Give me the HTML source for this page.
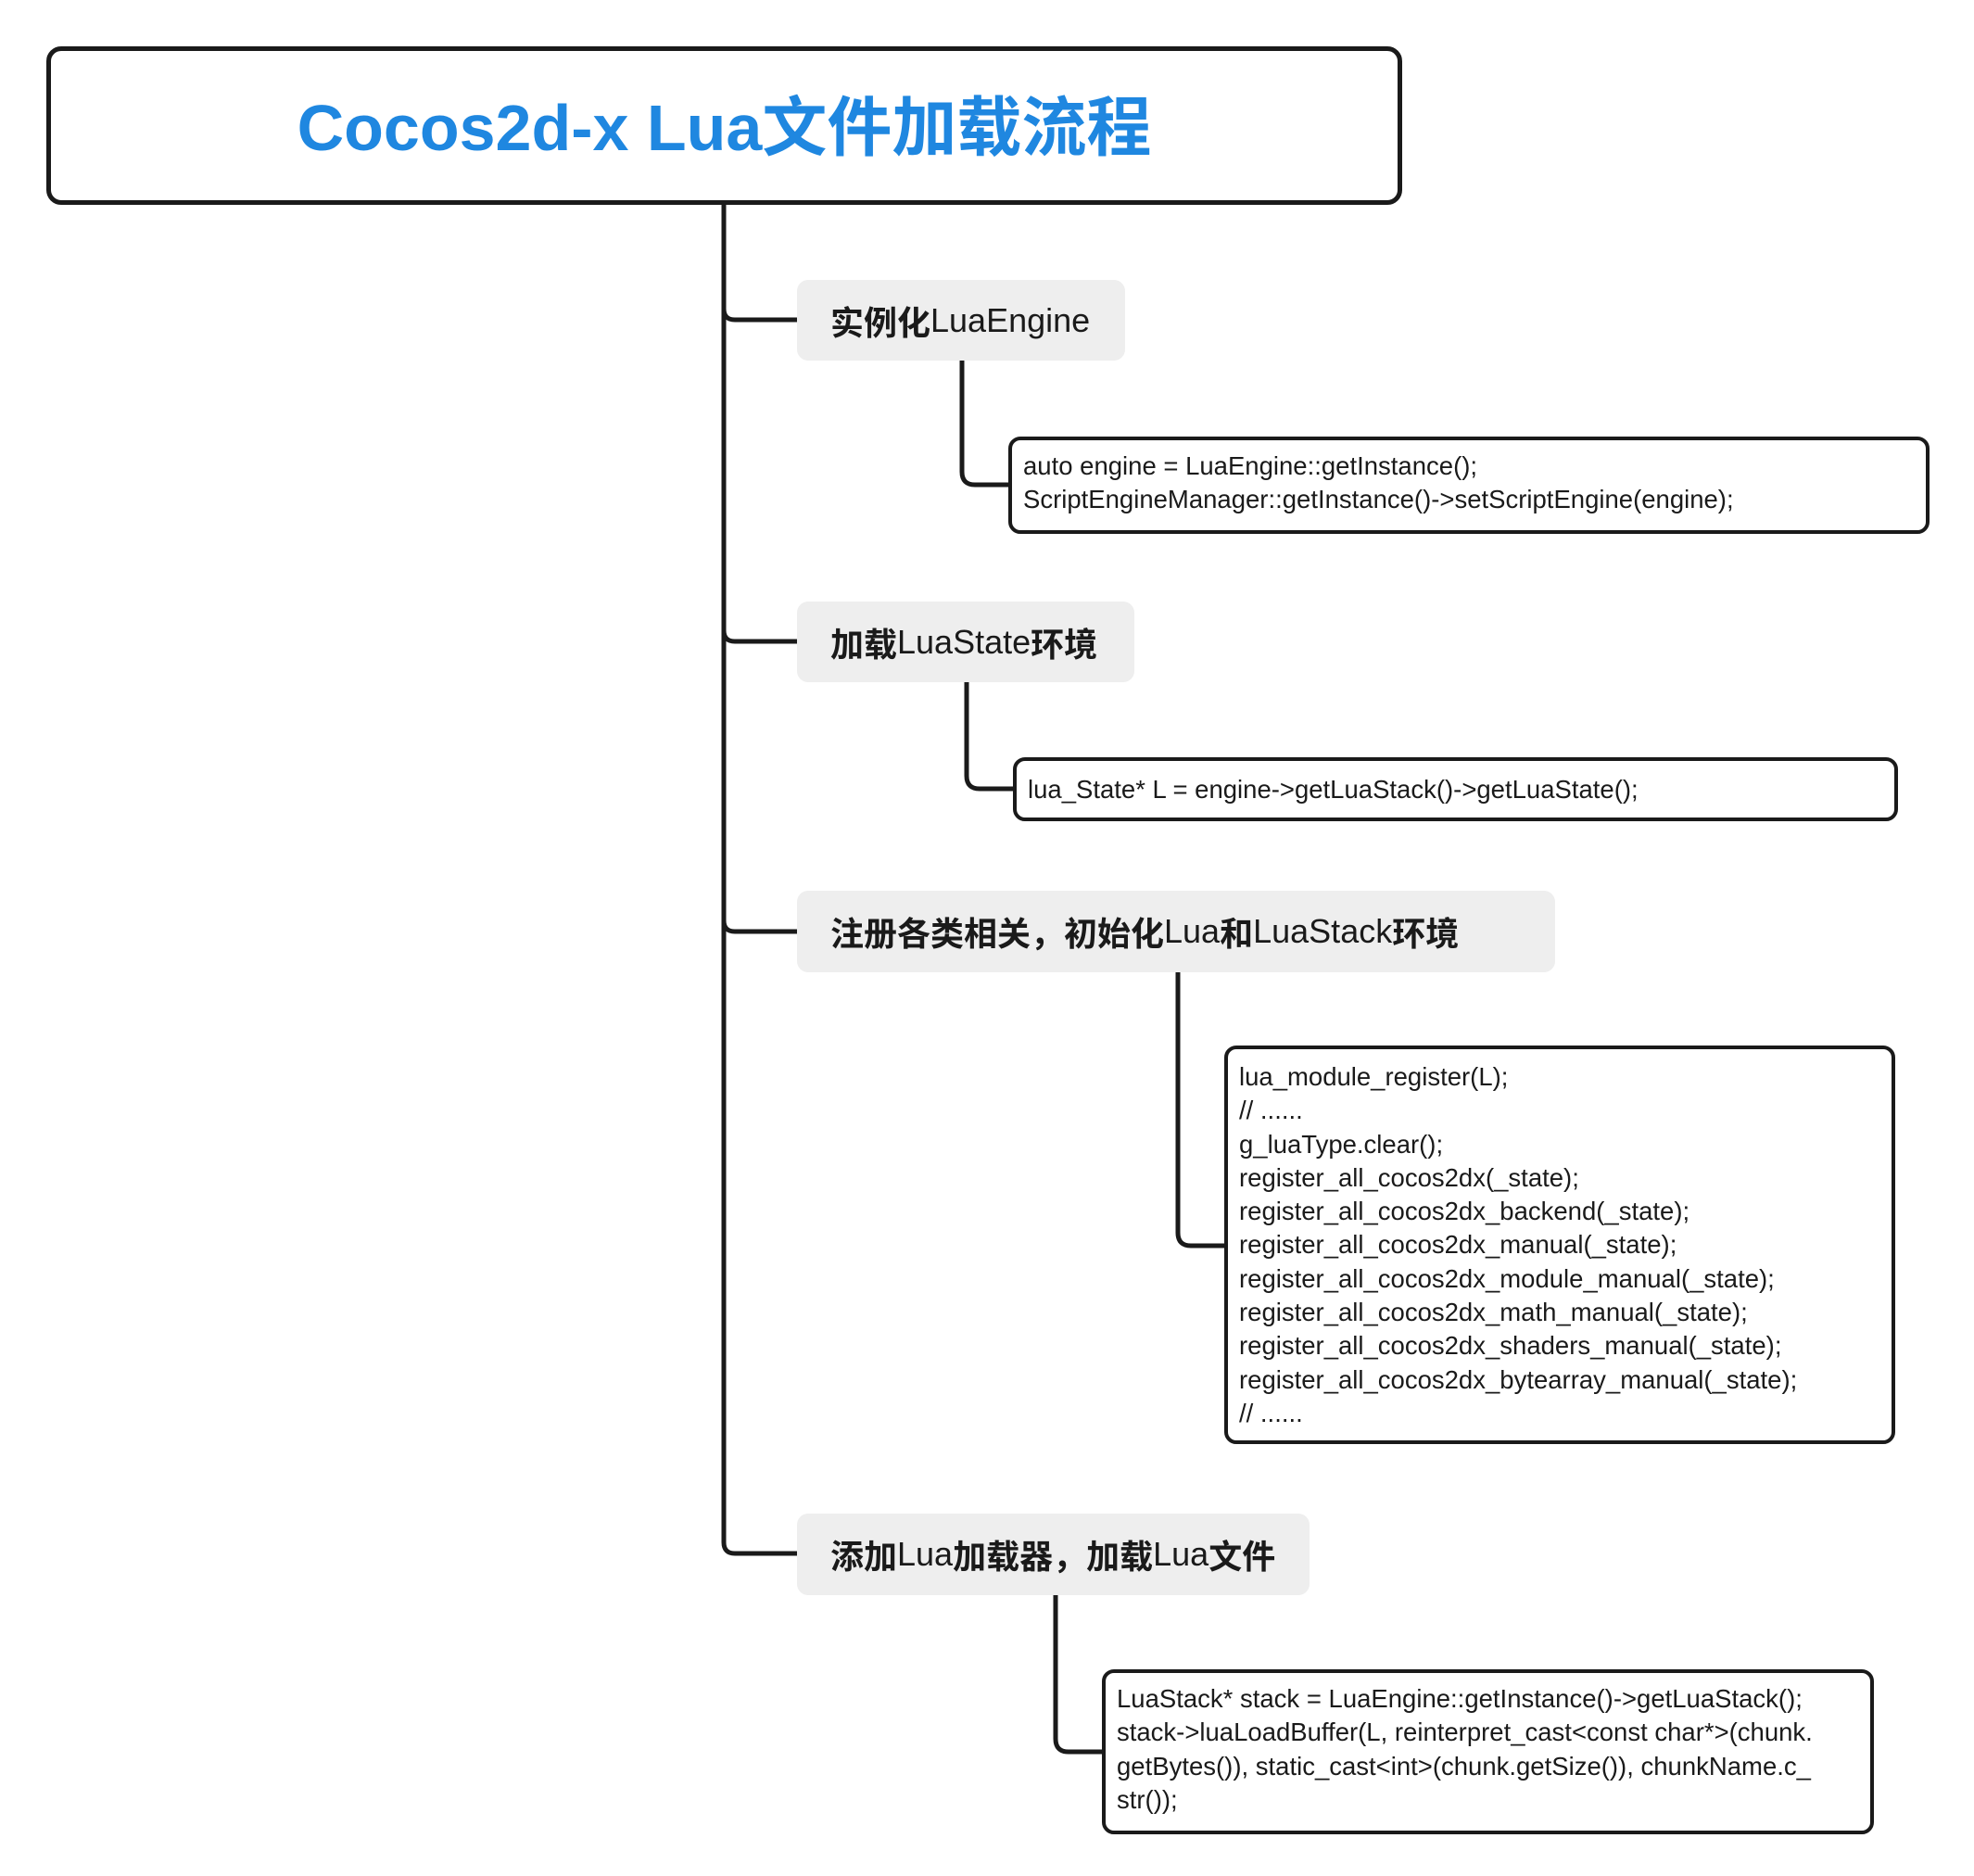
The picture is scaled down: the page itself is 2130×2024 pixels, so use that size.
<!DOCTYPE html>
<html><head><meta charset="utf-8"><style>
body{margin:0;width:2130px;height:2024px;background:#fff;position:relative;overflow:hidden;font-family:"Liberation Sans","Noto Sans CJK SC",sans-serif;}
.title{position:absolute;left:50px;top:50px;width:1463px;height:171px;border:5px solid #1a1a1a;border-radius:16px;box-sizing:border-box;color:#1f87e0;font-size:70px;font-weight:bold;display:flex;align-items:center;justify-content:center;padding-bottom:6px;}
.node{position:absolute;background:#eeeeee;border-radius:12px;box-sizing:border-box;padding-left:36px;display:flex;align-items:center;font-size:36px;color:#1a1a1a;white-space:nowrap;}
.node b{font-weight:bold;}
.code{position:absolute;border:4px solid #1a1a1a;border-radius:13px;box-sizing:border-box;padding:10px 0 0 12px;font-size:27.5px;line-height:36.3px;color:#1a1a1a;white-space:nowrap;background:#fff;}
svg{position:absolute;left:0;top:0;}
</style></head><body>
<svg width="2130" height="2024" fill="none" stroke="#1a1a1a" stroke-width="5">
<path d="M781 218 V1664 Q781 1676 793 1676 H862"/>
<path d="M781 333 Q781 345 793 345 H862"/>
<path d="M781 680 Q781 692 793 692 H862"/>
<path d="M781 993 Q781 1005 793 1005 H862"/>
<path d="M1038 389 V509 Q1038 523 1052 523 H1090"/>
<path d="M1043 736 V837 Q1043 851 1057 851 H1095"/>
<path d="M1271 1049 V1330 Q1271 1344 1285 1344 H1323"/>
<path d="M1139 1721 V1876 Q1139 1890 1153 1890 H1191"/>
</svg>
<div class="title">Cocos2d-x Lua文件加载流程</div>
<div class="node" style="left:860px;top:302px;width:354px;height:87px;"><b>实例化</b>LuaEngine</div>
<div class="code" style="left:1088px;top:471px;width:994px;height:105px;">auto engine = LuaEngine::getInstance();<br>ScriptEngineManager::getInstance()-&gt;setScriptEngine(engine);</div>
<div class="node" style="left:860px;top:649px;width:364px;height:87px;"><b>加载</b>LuaState<b>环境</b></div>
<div class="code" style="left:1093px;top:817px;width:955px;height:69px;padding-top:13px;">lua_State* L = engine-&gt;getLuaStack()-&gt;getLuaState();</div>
<div class="node" style="left:860px;top:961px;width:818px;height:88px;"><b>注册各类相关，初始化</b>Lua<b>和</b>LuaStack<b>环境</b></div>
<div class="code" style="left:1321px;top:1128px;width:724px;height:430px;padding-top:12px;">lua_module_register(L);<br>// ......<br>g_luaType.clear();<br>register_all_cocos2dx(_state);<br>register_all_cocos2dx_backend(_state);<br>register_all_cocos2dx_manual(_state);<br>register_all_cocos2dx_module_manual(_state);<br>register_all_cocos2dx_math_manual(_state);<br>register_all_cocos2dx_shaders_manual(_state);<br>register_all_cocos2dx_bytearray_manual(_state);<br>// ......</div>
<div class="node" style="left:860px;top:1633px;width:553px;height:88px;"><b>添加</b>Lua<b>加载器，加载</b>Lua<b>文件</b></div>
<div class="code" style="left:1189px;top:1801px;width:833px;height:178px;padding-top:10px;">LuaStack* stack = LuaEngine::getInstance()-&gt;getLuaStack();<br>stack-&gt;luaLoadBuffer(L, reinterpret_cast&lt;const char*&gt;(chunk.<br>getBytes()), static_cast&lt;int&gt;(chunk.getSize()), chunkName.c_<br>str());</div>
</body></html>
